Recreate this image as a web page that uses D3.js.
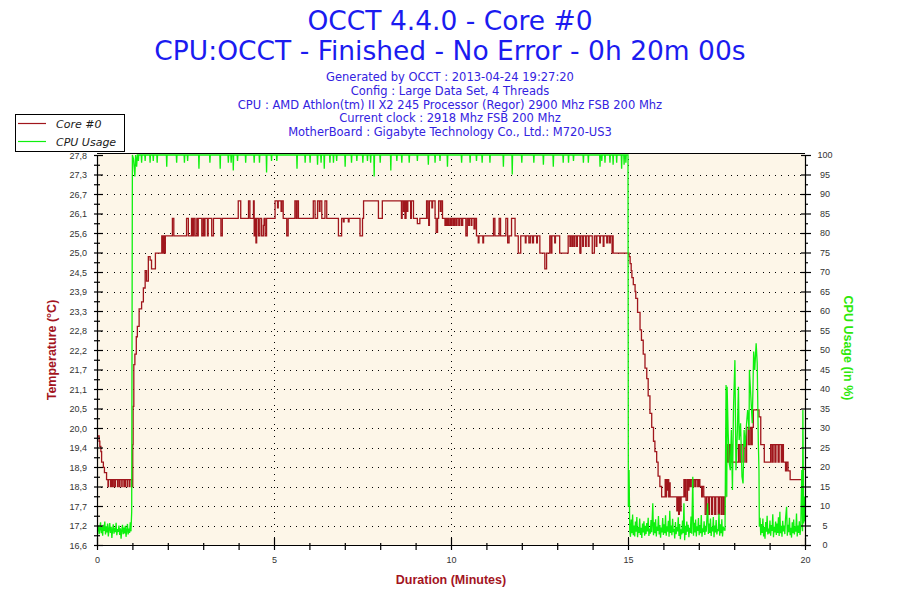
<!DOCTYPE html>
<html><head><meta charset="utf-8">
<script src="https://cdn.jsdelivr.net/npm/d3@7"></script>
<style>body{margin:0;background:#fff}svg{display:block}</style>
</head><body><svg id="c" width="900" height="600"></svg>
<script>
// ---------------- DATA ----------------
const titleLines = ["OCCT 4.4.0 - Core #0", "CPU:OCCT - Finished - No Error - 0h 20m 00s"];
const infoLines = [
  "Generated by OCCT : 2013-04-24 19:27:20",
  "Config : Large Data Set, 4 Threads",
  "CPU : AMD Athlon(tm) II X2 245 Processor (Regor) 2900 Mhz FSB 200 Mhz",
  "Current clock : 2918 Mhz FSB 200 Mhz",
  "MotherBoard : Gigabyte Technology Co., Ltd.: M720-US3"
];
const seriesNames = ["Core #0", "CPU Usage"];
const axisTitles = {temp: "Temperature (°C)", cpu: "CPU Usage (in %)", x: "Duration (Minutes)"};
const xDomain = [0, 20];
const xTicks = [0, 5, 10, 15, 20];
const xMinorTicks = [1,2,3,4,6,7,8,9,11,12,13,14,16,17,18,19];
const cpuTicks = [0,5,10,15,20,25,30,35,40,45,50,55,60,65,70,75,80,85,90,95,100];
const tempTickLabels = ["16,6","17,2","17,7","18,3","18,9","19,4","20,0","20,5","21,1","21,7","22,2",
  "22,8","23,3","23,9","24,5","25,0","25,6","26,1","26,7","27,3","27,8"];
const tempDomain = [16.62, 27.82];

// Core #0 temperature [minutes, °C] (held until next point)
const tempSeries = [
[0.00,19.75],[0.06,19.6],[0.08,19.45],[0.11,19.3],[0.13,19.0],[0.18,18.85],[0.21,18.7],[0.27,18.5],
[0.31,18.3],[0.32,18.5],[0.38,18.3],[0.39,18.5],[0.41,18.3],[0.42,18.5],[0.45,18.3],[0.46,18.5],[0.50,18.3],[0.52,18.5],
[0.58,18.3],[0.60,18.5],[0.64,18.3],[0.65,18.5],[0.70,18.3],[0.71,18.5],[0.76,18.3],[0.77,18.5],[0.80,18.3],[0.81,18.5],
[0.86,18.3],[0.87,18.5],[0.92,18.3],[0.93,18.5],[0.98,18.3],
[1.01,19.5],[1.02,20.6],[1.04,21.8],[1.07,22.1],[1.11,22.6],[1.14,22.9],[1.19,23.4],[1.26,23.6],[1.31,24.0],[1.36,24.5],
[1.40,24.2],[1.45,24.9],[1.50,24.8],[1.54,24.55],[1.65,25.0],[1.83,25.5],[1.86,25.0],[1.88,25.5],[1.90,25.0],[1.93,25.5],
[2.13,26.0],[2.17,25.5],[2.53,26.0],[2.58,25.5],[2.67,26.0],[2.70,25.5],[2.73,26.0],[2.77,25.5],[2.82,26.0],[2.84,25.5],
[2.86,26.0],[2.96,25.5],[3.00,26.0],[3.03,25.5],[3.05,26.0],[3.12,25.5],[3.14,26.0],[3.24,25.5],[3.29,26.0],[3.50,25.5],
[3.54,26.0],[3.99,26.5],[4.06,26.0],[4.28,26.5],[4.32,26.0],[4.42,26.5],[4.44,25.5],[4.46,26.0],[4.49,25.3],[4.51,26.0],
[4.56,25.5],[4.60,26.0],[4.65,25.5],[4.70,25.8],[4.72,26.0],[4.75,25.5],[4.79,26.0],[5.03,26.5],[5.10,26.3],[5.12,26.5],
[5.20,26.2],[5.22,26.5],[5.26,26.0],[5.36,25.5],[5.40,26.0],[5.59,26.5],[5.63,26.0],[5.65,26.5],[5.69,26.0],[6.11,26.5],
[6.16,26.0],[6.23,26.5],[6.28,26.2],[6.30,26.5],[6.35,26.0],[6.44,26.5],[6.49,26.0],
[6.82,25.5],[6.91,26.0],[6.96,25.9],[6.98,26.0],[7.10,25.9],[7.12,26.0],[7.43,25.5],[7.50,26.0],[7.53,26.5],[7.95,26.0],
[8.06,26.5],[8.60,26.0],[8.62,26.5],[8.66,26.2],[8.68,26.5],[8.70,26.0],[8.73,26.5],[8.76,26.2],[8.78,26.5],[8.86,26.0],
[8.88,26.5],[8.94,26.0],[9.05,25.85],[9.12,26.0],[9.31,26.5],[9.35,26.0],[9.37,25.8],[9.39,26.5],[9.46,26.3],[9.48,26.5],
[9.55,26.0],[9.58,25.6],[9.62,26.0],[9.65,26.5],[9.70,26.2],[9.72,26.5],[9.76,26.0],
[9.83,25.8],[9.85,26.0],[9.87,25.8],[9.90,26.0],[9.93,25.8],[9.97,26.0],[10.00,25.8],[10.03,26.0],[10.07,25.8],[10.10,26.0],
[10.14,25.8],[10.17,26.0],[10.22,25.8],[10.25,26.0],[10.30,25.8],[10.33,26.0],[10.42,25.5],[10.46,26.0],[10.50,25.8],[10.52,26.0],
[10.57,25.8],[10.59,26.0],[10.65,25.7],[10.68,26.0],[10.72,25.5],[10.77,25.3],[10.79,25.5],[10.90,25.3],[10.92,25.5],
[11.20,26.0],[11.24,25.5],[11.36,26.0],[11.40,25.5],[11.55,26.0],[11.60,25.3],[11.64,25.5],[11.71,26.0],[11.81,25.5],[11.90,25.0],
[11.97,25.5],[12.10,25.3],[12.12,25.5],[12.20,25.3],[12.24,25.5],[12.30,25.3],[12.33,25.5],[12.42,25.3],[12.44,25.5],[12.51,25.0],
[12.65,24.55],[12.70,25.0],[12.79,25.5],[12.83,25.0],[12.85,25.5],[12.93,25.3],[12.95,25.5],[13.07,25.0],[13.31,25.5],
[13.36,25.2],[13.38,25.5],[13.42,25.2],[13.44,25.5],[13.48,25.2],[13.50,25.5],[13.55,25.2],[13.57,25.5],[13.64,25.0],[13.67,25.5],
[13.72,25.2],[13.74,25.5],[13.80,25.2],[13.82,25.5],[13.88,25.2],[13.90,25.5],[13.99,25.0],[14.05,25.5],[14.10,25.2],[14.12,25.5],
[14.20,25.3],[14.22,25.5],[14.30,25.2],[14.32,25.5],[14.40,25.3],[14.42,25.5],[14.47,25.3],[14.50,25.5],[14.55,25.0],[14.57,25.5],
[14.58,25.0],
[15.03,24.9],[15.06,24.7],[15.09,24.5],[15.11,24.3],[15.15,24.1],[15.20,23.9],[15.22,23.7],[15.27,23.3],[15.34,22.8],[15.38,22.5],
[15.43,22.1],[15.48,21.7],[15.53,21.4],[15.57,20.9],[15.62,20.4],[15.67,20.0],[15.72,19.6],[15.76,19.3],[15.81,19.0],[15.85,18.6],
[15.90,18.3],[15.95,18.0],
[16.05,18.5],[16.07,18.0],[16.09,18.5],[16.11,18.2],[16.13,18.5],[16.15,18.0],[16.17,18.4],[16.19,18.0],[16.38,17.6],[16.40,18.0],
[16.43,17.5],[16.45,18.0],[16.48,17.6],[16.50,18.0],[16.58,18.5],[16.60,18.0],[16.62,18.5],[16.64,17.9],[16.68,18.5],[16.70,18.2],
[16.72,18.5],[16.75,18.3],[16.78,18.5],[16.82,18.3],[16.85,18.5],[16.89,18.3],[16.92,18.5],[16.97,18.3],[17.00,18.5],[17.03,18.3],
[17.08,18.0],[17.10,18.3],[17.14,18.0],[17.18,17.5],[17.22,18.0],[17.27,17.5],[17.30,18.0],[17.36,17.5],[17.39,18.0],[17.45,17.5],
[17.48,18.0],[17.55,17.5],[17.58,18.0],[17.63,17.5],[17.66,18.0],[17.70,17.5],[17.73,18.0],
[17.76,19.5],[17.80,19.0],[17.83,19.5],[17.87,19.0],[17.90,19.5],[17.94,19.0],[18.12,19.5],[18.16,19.0],[18.20,19.5],[18.25,19.0],
[18.28,19.5],[18.33,19.0],[18.35,20.0],[18.40,19.5],[18.44,20.0],[18.48,19.5],[18.51,20.0],[18.54,20.5],[18.70,20.3],[18.75,19.5],
[18.85,19.0],[19.03,19.5],[19.07,19.0],[19.10,19.5],[19.15,19.0],[19.18,19.5],[19.24,19.0],[19.27,19.5],[19.33,19.0],[19.36,19.5],
[19.39,19.0],[19.45,18.75],[19.48,19.0],[19.52,18.75],[19.58,18.5],[19.91,18.3],[19.95,18.8],[20.00,18.8]
];

// CPU usage [minutes, %]
const cpuSeries = [
[0.00,4.5],[0.02,3.5],[0.04,5.0],[0.06,2.8],[0.08,4.2],[0.10,5.8],[0.12,3.0],[0.14,4.6],[0.16,2.4],[0.18,5.2],[0.20,3.6],
[0.22,6.0],[0.24,2.7],[0.26,4.8],[0.28,3.2],[0.30,5.5],[0.32,2.2],[0.34,4.0],[0.36,5.6],[0.38,3.1],[0.40,4.7],[0.42,1.8],
[0.44,3.9],[0.46,5.3],[0.48,2.9],[0.50,4.4],[0.52,3.3],[0.54,5.7],[0.56,2.5],[0.58,4.1],[0.60,3.4],[0.62,5.0],[0.64,2.6],
[0.66,4.3],[0.68,1.6],[0.70,3.8],[0.72,5.2],[0.74,2.8],[0.76,4.5],[0.78,3.0],[0.80,4.9],[0.82,2.1],[0.84,3.7],[0.86,5.4],
[0.88,2.7],[0.90,4.2],[0.92,3.1],[0.94,5.8],[0.96,3.5],[0.98,8.5],[1.00,100],
[1.03,99],[1.07,94.5],[1.09,100],[1.12,97],[1.14,100],[1.16,100],[1.17,98.5],[1.18,100],[1.25,100],[1.26,98],[1.27,100],
[1.35,100],[1.36,98.5],[1.37,100],[1.49,100],[1.50,98],[1.51,100],[1.58,100],[1.59,98.5],[1.60,100],[1.69,100],[1.70,98],[1.71,100],
[1.96,100],[1.97,97],[1.98,100],[2.24,100],[2.25,98],[2.26,100],[2.46,100],[2.47,98],[2.48,100],[2.55,100],[2.56,98.5],[2.57,100],
[2.87,100],[2.88,96.5],[2.89,100],[3.18,100],[3.19,98],[3.20,100],[3.47,100],[3.48,96.5],[3.49,100],[3.70,100],[3.71,98],[3.72,100],
[3.78,100],[3.79,98],[3.80,100],[3.84,100],[3.85,96],[3.86,100],[3.96,100],[3.97,98.5],[3.98,100],[4.19,100],[4.20,98],[4.21,100],
[4.43,100],[4.44,98],[4.45,100],[4.58,100],[4.59,98],[4.60,100],[4.78,100],[4.79,95.5],[4.80,100],[4.92,100],[4.93,98.5],[4.94,100],
[5.07,100],[5.08,98.5],[5.09,100],[5.64,100],[5.65,96.5],[5.66,100],[5.87,100],[5.88,98],[5.89,100],[6.01,100],[6.02,98],[6.03,100],
[6.22,100],[6.23,97.5],[6.24,100],[6.32,100],[6.33,98],[6.34,100],[6.41,100],[6.42,96.5],[6.43,100],[6.57,100],[6.58,98],[6.59,100],
[6.67,100],[6.68,98],[6.69,100],[6.76,100],[6.77,98.5],[6.78,100],[7.00,100],[7.01,97],[7.02,100],[7.18,100],[7.19,98],[7.20,100],
[7.33,100],[7.34,98.5],[7.35,100],[7.50,100],[7.51,98],[7.52,100],[7.63,100],[7.64,98.5],[7.65,100],[7.72,100],[7.73,98],[7.74,100],
[7.82,100],[7.83,94.5],[7.84,100],[7.99,100],[8.00,98],[8.01,100],[8.29,100],[8.30,96],[8.31,100],[8.46,100],[8.47,98.5],[8.48,100],
[8.60,100],[8.61,98],[8.62,100],[8.81,100],[8.82,98],[8.83,100],[9.04,100],[9.05,98.5],[9.06,100],[9.35,100],[9.36,97.5],[9.37,100],
[9.54,100],[9.55,98],[9.56,100],[9.68,100],[9.69,98.5],[9.70,100],[9.89,100],[9.90,97],[9.91,100],[10.29,100],[10.30,98],[10.31,100],
[10.53,100],[10.54,98],[10.55,100],[10.71,100],[10.72,98.5],[10.73,100],[10.87,100],[10.88,98],[10.89,100],[11.09,100],[11.10,98],[11.11,100],
[11.47,100],[11.48,97],[11.49,100],[11.72,100],[11.73,95],[11.74,100],[11.99,100],[12.00,98],[12.01,100],[12.33,100],[12.34,98],[12.35,100],
[12.60,100],[12.61,97.5],[12.62,100],[12.88,100],[12.89,97],[12.90,100],[13.16,100],[13.17,98],[13.18,100],[13.31,100],[13.32,98],[13.33,100],
[13.45,100],[13.46,98.5],[13.47,100],[13.73,100],[13.74,98],[13.75,100],[13.87,100],[13.88,98],[13.89,100],[14.20,100],[14.21,97],[14.22,100],
[14.25,100],[14.26,98.5],[14.27,100],[14.34,100],[14.35,98],[14.36,100],[14.48,100],[14.49,98],[14.50,100],[14.57,100],[14.58,97.5],[14.59,100],
[14.67,100],[14.68,98],[14.69,100],[14.81,100],[14.82,96.5],[14.83,100],[14.88,100],[14.89,97.5],[14.90,100],[14.93,100],[14.94,98],[14.95,100],
[15.00,100],[15.01,9.8],[15.03,19.2],[15.05,3.8],[15.07,2.1],[15.09,6.5],[15.11,3.0],[15.13,7.8],[15.15,2.5],[15.17,5.0],[15.19,2.2],
[15.21,6.0],[15.23,3.4],[15.25,7.2],[15.27,2.0],[15.29,4.6],[15.31,3.1],[15.33,6.8],[15.35,2.6],[15.37,4.4],[15.39,1.8],[15.41,5.5],
[15.43,3.2],[15.45,6.1],[15.47,2.4],[15.49,4.9],[15.51,2.8],[15.53,5.6],[15.55,3.5],[15.57,7.0],[15.59,2.3],[15.61,4.2],[15.63,2.9],
[15.65,6.4],[15.67,3.3],[15.70,10.7],[15.72,2.5],[15.74,5.8],[15.76,3.0],[15.78,6.6],[15.80,2.2],[15.82,4.7],[15.84,3.6],[15.86,7.4],
[15.88,2.7],[15.90,5.1],[15.92,1.9],[15.94,4.5],[15.96,3.2],[15.98,6.9],[16.00,2.6],[16.02,5.3],[16.04,3.0],[16.06,7.6],[16.08,2.4],
[16.10,4.8],[16.12,3.4],[16.14,6.2],[16.16,2.1],[16.18,8.8],[16.20,3.1],[16.22,5.0],[16.24,2.5],[16.26,6.7],[16.28,3.3],[16.30,4.1],
[16.32,1.7],[16.34,5.9],[16.36,2.8],[16.38,4.6],[16.40,3.5],[16.42,7.1],[16.44,2.3],[16.46,5.4],[16.48,1.5],[16.50,4.0],[16.52,2.7],
[16.54,6.3],[16.56,3.0],[16.58,10.7],[16.60,1.2],[16.62,4.9],[16.64,2.6],[16.66,6.0],[16.68,3.4],[16.70,5.2],[16.72,2.0],[16.74,4.4],
[16.76,3.1],[16.78,7.3],[16.80,2.9],[16.83,17.5],[16.85,2.4],[16.87,5.7],[16.89,3.2],[16.91,6.5],[16.93,2.2],[16.95,4.8],[16.97,3.6],
[16.99,6.9],[17.01,2.5],[17.03,5.1],[17.05,3.0],[17.07,7.7],[17.09,2.1],[17.11,4.3],[17.13,3.3],[17.15,6.1],[17.17,2.6],[17.19,4.9],
[17.21,3.4],[17.25,10.7],[17.27,2.8],[17.29,5.5],[17.31,3.1],[17.33,6.8],[17.35,2.3],[17.37,4.6],[17.39,3.5],[17.41,7.2],[17.43,2.0],
[17.45,5.0],[17.47,3.2],[17.49,6.4],[17.51,2.7],[17.53,4.1],[17.55,3.6],[17.57,8.0],[17.59,2.4],[17.61,5.3],[17.63,3.0],[17.65,6.6],
[17.67,2.2],[17.69,4.7],[17.72,3.8],
[17.74,3.8],[17.77,41],[17.79,12.4],[17.80,40.6],[17.83,28.6],[17.86,21],[17.89,19.2],[17.92,29.5],[17.95,14.1],[17.98,35],
[18.02,47.4],[18.05,19.2],[18.09,29.5],[18.12,40.6],[18.14,26.9],[18.18,31.2],[18.22,17.5],[18.25,15.8],[18.28,29.5],[18.31,25.2],
[18.35,31.2],[18.38,34.6],[18.42,29.5],[18.43,44.9],[18.47,38],[18.51,31.2],[18.55,49.6],[18.58,44.9],[18.62,51.7],[18.65,46.6],
[18.68,26.9],[18.70,19.2],[18.71,4.7],
[18.73,7.0],[18.75,2.5],[18.77,5.4],[18.79,3.1],[18.81,6.8],[18.83,2.2],[18.85,4.6],[18.87,1.6],[18.89,5.9],[18.91,3.4],[18.93,7.5],
[18.95,2.7],[18.97,4.2],[18.99,3.0],[19.01,6.3],[19.03,2.4],[19.05,5.1],[19.07,3.6],[19.09,7.9],[19.11,2.0],[19.13,4.7],[19.15,3.2],
[19.17,6.0],[19.19,2.6],[19.21,5.5],[19.23,3.1],[19.25,7.1],[19.27,2.3],[19.29,8.5],[19.31,3.0],[19.33,4.9],[19.35,2.1],[19.37,6.2],
[19.39,3.5],[19.41,5.0],[19.43,2.8],[19.45,6.7],[19.48,9.8],[19.50,2.4],[19.52,5.2],[19.54,3.3],[19.56,7.0],[19.58,2.5],[19.60,4.4],
[19.62,1.9],[19.64,5.8],[19.66,3.0],[19.68,6.5],[19.70,2.7],[19.72,4.8],[19.74,3.4],[19.76,8.1],[19.78,2.2],[19.80,5.0],[19.82,3.1],
[19.84,6.1],[19.86,2.6],[19.88,4.5],[19.91,19.2],[19.93,3.5],[19.94,34.6],[19.96,5.5],[19.98,12.4],[20.00,6.0]
];

// ---------------- DRAW ----------------
const svg = d3.select('#c');
const L = 97, R = 805, T = 155, B = 545;
const x = d3.scaleLinear().domain(xDomain).range([L, R]);
const yC = d3.scaleLinear().domain([0, 100]).range([B, T]);
const yT = d3.scaleLinear().domain(tempDomain).range([B, T]);

const tempColor = '#a0161c', cpuColor = '#0ef00e', titleColor = '#1b1bf0', infoColor = '#3322e0';
const axisTitleRed = '#a3141e', axisTitleGreen = '#2ee80a';

svg.append('rect').attr('x', 0).attr('y', 0).attr('width', 900).attr('height', 600).attr('fill', '#fff');

// titles
svg.selectAll('text.title').data(titleLines).enter().append('text')
  .attr('x', 450).attr('y', (d, i) => 30 + i * 29.5)
  .attr('text-anchor', 'middle').attr('font-family', 'DejaVu Sans, Verdana, sans-serif')
  .attr('font-size', 26.5).attr('fill', titleColor).text(d => d);
svg.selectAll('text.info').data(infoLines).enter().append('text')
  .attr('x', 450).attr('y', (d, i) => 81 + i * 13.8)
  .attr('text-anchor', 'middle').attr('font-family', 'DejaVu Sans, Verdana, sans-serif')
  .attr('font-size', 11.5).attr('fill', infoColor).text(d => d);

// plot background
svg.append('rect').attr('x', L).attr('y', T - 1).attr('width', R - L).attr('height', B - T + 1).attr('fill', '#fdf6e8');

// grid
const grid = svg.append('g').attr('stroke', '#000').attr('stroke-width', 1).attr('stroke-dasharray', '1,5.3').attr('shape-rendering', 'crispEdges');
grid.selectAll('line.h').data(cpuTicks.filter(d => d > 0 && d < 100)).enter().append('line')
  .attr('x1', L + 4).attr('x2', R).attr('y1', d => Math.round(yC(d)) + 0.5).attr('y2', d => Math.round(yC(d)) + 0.5);
grid.selectAll('line.v').data(xTicks.filter(d => d > 0 && d < 20)).enter().append('line')
  .attr('y1', T + 4).attr('y2', B).attr('x1', d => Math.round(x(d)) + 0.5).attr('x2', d => Math.round(x(d)) + 0.5);

// series
svg.append('clipPath').attr('id', 'pc').append('rect').attr('x', L).attr('y', T - 2).attr('width', R - L + 1).attr('height', B - T + 2);
const plot = svg.append('g').attr('clip-path', 'url(#pc)');
plot.append('path').datum(tempSeries)
  .attr('d', d3.line().x(d => x(d[0])).y(d => yT(d[1])).curve(d3.curveStepAfter))
  .attr('fill', 'none').attr('stroke', tempColor).attr('stroke-width', 1.3);
plot.append('path').datum(cpuSeries)
  .attr('d', d3.line().x(d => x(d[0])).y(d => yC(d[1])))
  .attr('fill', 'none').attr('stroke', cpuColor).attr('stroke-width', 1.3);

// frame top
svg.append('line').attr('x1', L).attr('x2', R).attr('y1', T - 1.5).attr('y2', T - 1.5).attr('stroke', '#000').attr('stroke-width', 1.2);

const tickFont = 'Liberation Sans, Arial, sans-serif';
function styleAxis(g) {
  g.select('.domain').attr('stroke', '#000').attr('stroke-width', 1.2);
  g.selectAll('.tick line').attr('stroke', '#000').attr('stroke-width', 1.2);
  g.selectAll('.tick text').attr('fill', '#333').attr('font-family', tickFont).attr('font-size', 9);
}

// left axis (temperature labels on shared grid)
const gl = svg.append('g').attr('transform', `translate(${L},0)`)
  .call(d3.axisLeft(yC).tickValues(cpuTicks).tickSize(3).tickSizeOuter(0).tickPadding(7).tickFormat((d, i) => tempTickLabels[i]));
styleAxis(gl);
gl.selectAll('.tick line').attr('x1', 6);
gl.selectAll('.tick text').attr('dy', '0.35em');
const glm = svg.append('g').attr('transform', `translate(${L},0)`)
  .call(d3.axisLeft(yC).tickValues(d3.range(2.5, 100, 5)).tickSize(3).tickSizeOuter(0).tickFormat(''));
styleAxis(glm); glm.select('.domain').remove();
glm.selectAll('.tick line').attr('x1', 3);

// right axis (cpu %)
const gr = svg.append('g').attr('transform', `translate(${R},0)`)
  .call(d3.axisRight(yC).tickValues(cpuTicks).tickSize(6).tickSizeOuter(0).tickPadding(14));
styleAxis(gr);
gr.selectAll('.tick line').attr('x1', -4);
gr.selectAll('.tick text').attr('text-anchor', 'middle').attr('x', 20);
const grm = svg.append('g').attr('transform', `translate(${R},0)`)
  .call(d3.axisRight(yC).tickValues(d3.range(2.5, 100, 5)).tickSize(3).tickSizeOuter(0).tickFormat(''));
styleAxis(grm); grm.select('.domain').remove();

// bottom axis
const gb = svg.append('g').attr('transform', `translate(0,${B})`)
  .call(d3.axisBottom(x).tickValues(xTicks).tickSize(5).tickSizeOuter(0).tickPadding(7).tickFormat(d3.format('d')));
styleAxis(gb);
gb.selectAll('.tick line').attr('y1', -7);
const gbm = svg.append('g').attr('transform', `translate(0,${B})`)
  .call(d3.axisBottom(x).tickValues(xMinorTicks).tickSize(5).tickSizeOuter(0).tickFormat(''));
styleAxis(gbm); gbm.select('.domain').remove();
gbm.selectAll('.tick line').attr('y1', -2);

// axis titles
const titleFont = 'Liberation Sans, Arial, sans-serif';
svg.append('text').attr('transform', 'translate(56,350) rotate(-90)').attr('text-anchor', 'middle')
  .attr('font-family', titleFont).attr('font-weight', 'bold').attr('font-size', 12.5).attr('fill', axisTitleRed).text(axisTitles.temp);
svg.append('text').attr('transform', 'translate(844,348) rotate(90)').attr('text-anchor', 'middle')
  .attr('font-family', titleFont).attr('font-weight', 'bold').attr('font-size', 12.5).attr('fill', axisTitleGreen).text(axisTitles.cpu);
svg.append('text').attr('x', 451).attr('y', 584).attr('text-anchor', 'middle')
  .attr('font-family', titleFont).attr('font-weight', 'bold').attr('font-size', 12.5).attr('fill', axisTitleRed).text(axisTitles.x);

// legend
const lg = svg.append('g');
lg.append('rect').attr('x', 15.5).attr('y', 114.5).attr('width', 109).attr('height', 37).attr('fill', '#fff').attr('stroke', '#000');
const legendColors = [tempColor, cpuColor];
seriesNames.forEach((n, i) => {
  const yy = 123.5 + i * 18;
  lg.append('line').attr('x1', 18).attr('x2', 46).attr('y1', yy).attr('y2', yy).attr('stroke', legendColors[i]).attr('stroke-width', 1.2);
  lg.append('text').attr('x', 56).attr('y', yy + 4).attr('font-family', 'DejaVu Sans, Verdana, sans-serif')
    .attr('font-style', 'italic').attr('font-size', 11).attr('fill', '#1a1a1a').text(n);
});
</script></body></html>
